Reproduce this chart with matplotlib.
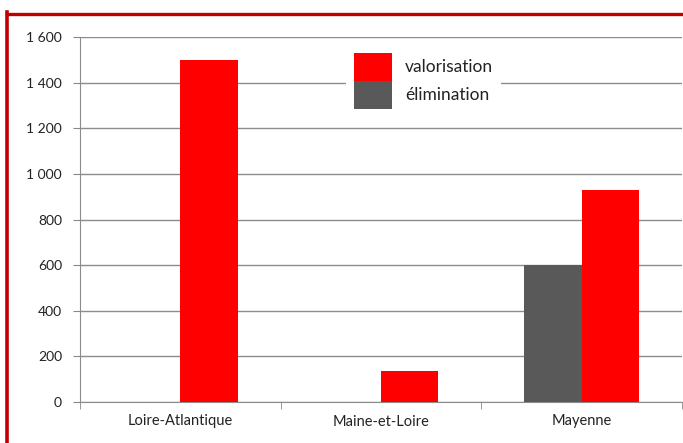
import matplotlib.pyplot as plt
from matplotlib.lines import Line2D
from matplotlib.patches import Patch
import numpy as np

departements = ['Loire-Atlantique', 'Maine-et-Loire', 'Mayenne']
elimination = [0, 0, 600]
valorisation = [1500, 135, 930]
yticks = [0, 200, 400, 600, 800, 1000, 1200, 1400, 1600]
ytick_labels = ['0', '200', '400', '600', '800', '1 000', '1 200', '1 400', '1 600']

plt.rcParams['font.family'] = ['Lato', 'DejaVu Sans']

fig = plt.figure(figsize=(6.83, 4.43), dpi=100)
ax = fig.add_axes([80 / 683, 1 - 402 / 443, 602 / 683, 365 / 443])

x = np.arange(len(departements))
w = 0.285
ax.bar(x - w / 2, elimination, w, color='#595959', zorder=3)
ax.bar(x + w / 2, valorisation, w, color='#ff0000', zorder=3)

ax.set_xlim(-0.5, 2.5)
ax.set_ylim(0, 1600)
ax.set_yticks(yticks)
ax.set_yticklabels(ytick_labels)
ax.set_xticks(x)
ax.set_xticklabels(departements)
ax.set_xticks([-0.5, 0.5, 1.5, 2.5], minor=True)
ax.tick_params(axis='x', which='major', length=0, pad=9, labelsize=10.5, labelcolor='#222222')
ax.tick_params(axis='x', which='minor', length=5, color='#888888')
ax.tick_params(axis='y', length=5, color='#888888', labelsize=10, labelcolor='#222222', pad=8)

ax.grid(axis='y', color='#8c8c8c', linewidth=1, zorder=0)
for s in ['top', 'right']:
    ax.spines[s].set_visible(False)
for s in ['left', 'bottom']:
    ax.spines[s].set_color('#8c8c8c')

handles = [Patch(facecolor='#ff0000'), Patch(facecolor='#595959')]
leg = fig.legend(handles, ['valorisation', 'élimination'], loc='upper left',
                 bbox_to_anchor=(346 / 683, 1 - 45 / 443), fontsize=12.5,
                 handlelength=2.2, handleheight=2.1, handletextpad=0.75,
                 labelspacing=0, borderpad=0.45, borderaxespad=0,
                 frameon=True, fancybox=False, framealpha=1)
leg.get_frame().set_edgecolor('none')
leg.get_frame().set_facecolor('white')
for t in leg.get_texts():
    t.set_color('#222222')

# cadre rouge
fig.add_artist(Line2D([7 / 683, 1], [1 - 13.5 / 443, 1 - 13.5 / 443], color='#c00000', lw=2.4))
fig.add_artist(Line2D([7 / 683, 7 / 683], [0, 1 - 12 / 443], color='#c00000', lw=2.6))

fig.savefig('out.png', dpi=100)
